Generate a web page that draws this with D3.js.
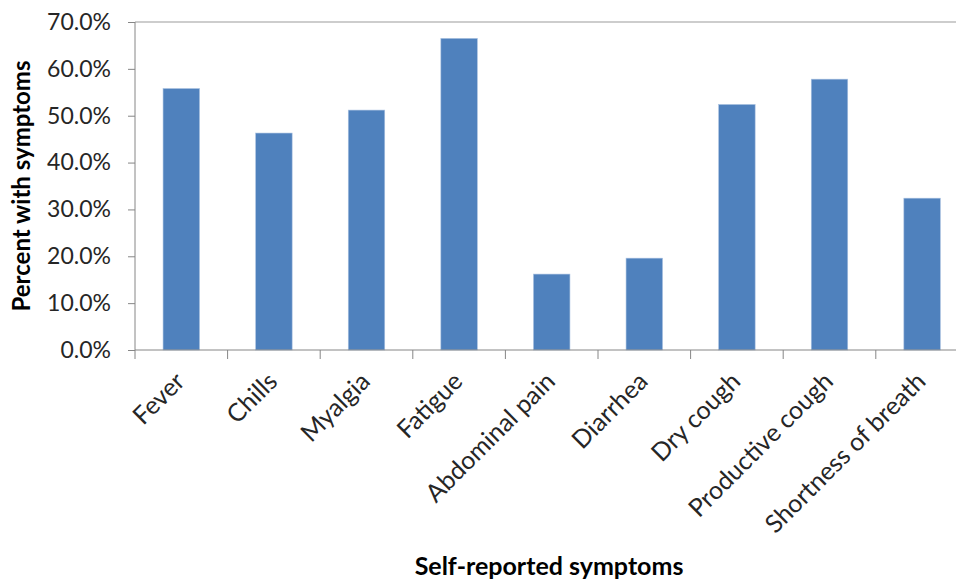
<!DOCTYPE html>
<html>
<head>
<meta charset="utf-8">
<script src="https://cdn.jsdelivr.net/npm/d3@7/dist/d3.min.js"></script>
<style>
  html, body { margin: 0; padding: 0; background: #fff; }
  svg { display: block; }
  text { font-family: Lato, "Open Sans", sans-serif; }
</style>
</head>
<body>
<svg id="chart" width="956" height="579"></svg>
<script>
const categories = ["Fever", "Chills", "Myalgia", "Fatigue", "Abdominal pain", "Diarrhea", "Dry cough", "Productive cough", "Shortness of breath"];
const values = [0.558, 0.463, 0.512, 0.665, 0.162, 0.196, 0.524, 0.578, 0.324];
const yTicks = [0, 0.1, 0.2, 0.3, 0.4, 0.5, 0.6, 0.7];
const yTitle = "Percent with symptoms";
const xTitle = "Self-reported symptoms";

const svg = d3.select("#chart");
const mLeft = 135, mTop = 22, mBottom = 350, step = 92.6;
const mRight = mLeft + step * categories.length;

const x = d3.scaleBand().domain(categories).range([mLeft, mRight])
  .paddingInner(0.606).paddingOuter(0.303);
const y = d3.scaleLinear().domain([0, 0.7]).range([mBottom, mTop]);

// top gridline at max
svg.append("line")
  .attr("x1", mLeft).attr("x2", 956)
  .attr("y1", y(0.7)).attr("y2", y(0.7))
  .attr("stroke", "#bcbcbc").attr("stroke-width", 1.5);

// bars
svg.append("g").selectAll("rect").data(values).join("rect")
  .attr("x", (d, i) => x(categories[i]))
  .attr("width", x.bandwidth())
  .attr("y", d => y(d))
  .attr("height", d => y(0) - y(d))
  .attr("fill", "#4f81bd")
  .attr("stroke", "#a9c1e0")
  .attr("stroke-width", 0.6);

// y axis
const yAxis = d3.axisLeft(y).tickValues(yTicks).tickFormat(d3.format(".1%"))
  .tickSize(7).tickPadding(17);
const gy = svg.append("g").attr("transform", `translate(${mLeft},0)`).call(yAxis);
gy.select(".domain").remove();
gy.selectAll(".tick line").attr("stroke", "#868686");
gy.selectAll(".tick text").attr("font-size", 23).attr("fill", "#262626")
  .attr("font-family", "Lato, sans-serif");
svg.append("line").attr("x1", mLeft).attr("x2", mLeft)
  .attr("y1", mTop).attr("y2", mBottom + 9).attr("stroke", "#868686");

// x axis
svg.append("line").attr("x1", mLeft).attr("x2", 956)
  .attr("y1", mBottom).attr("y2", mBottom).attr("stroke", "#868686");
svg.append("g").selectAll("line").data(categories.slice(1)).join("line")
  .attr("x1", d => x(d) - x.step() * x.paddingOuter())
  .attr("x2", d => x(d) - x.step() * x.paddingOuter())
  .attr("y1", mBottom).attr("y2", mBottom + 9)
  .attr("stroke", "#868686");

svg.append("g").selectAll("text").data(categories).join("text")
  .attr("transform", d => `translate(${x(d) + x.bandwidth() / 2 + 5},${mBottom + 33}) rotate(-45)`)
  .attr("text-anchor", "end")
  .attr("font-size", 25)
  .attr("fill", "#262626")
  .text(d => d);

// titles
svg.append("text")
  .attr("transform", `translate(30,186) rotate(-90)`)
  .attr("text-anchor", "middle")
  .attr("font-size", 24).attr("font-weight", "bold").attr("fill", "#000")
  .text(yTitle);

svg.append("text")
  .attr("x", 549).attr("y", 575)
  .attr("text-anchor", "middle")
  .attr("font-size", 25).attr("font-weight", "bold").attr("fill", "#000")
  .text(xTitle);
</script>
</body>
</html>
